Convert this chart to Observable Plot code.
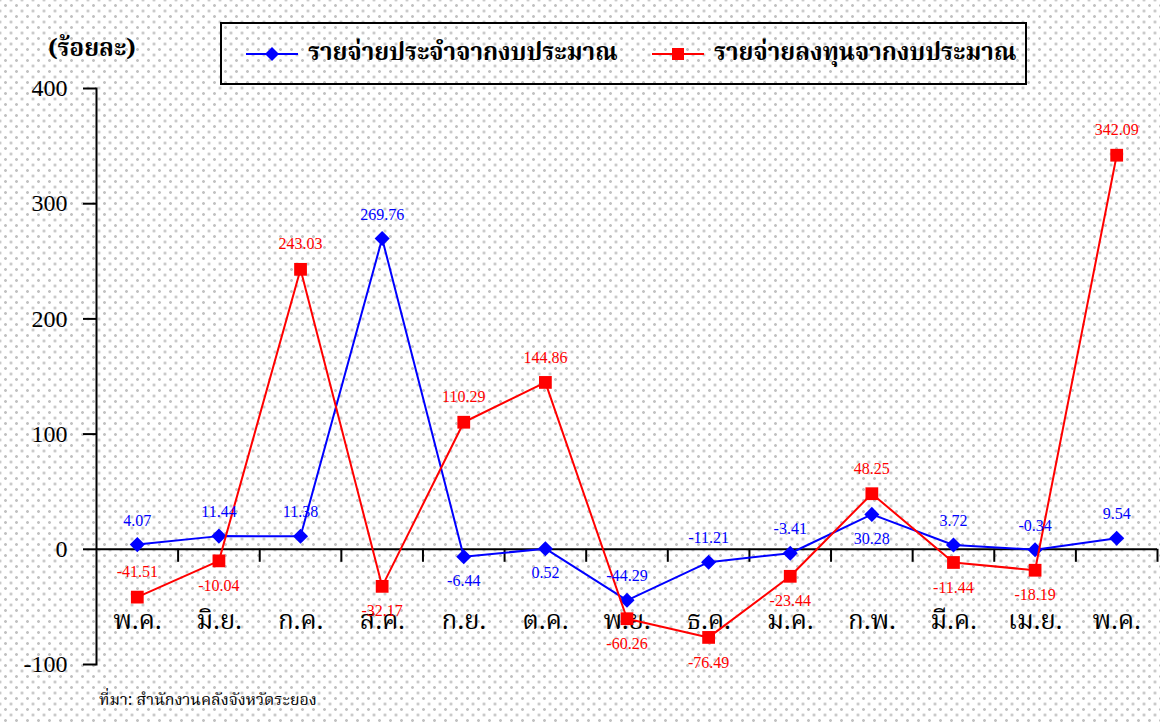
<!DOCTYPE html>
<html>
<head>
<meta charset="utf-8">
<script src="https://cdn.jsdelivr.net/npm/d3@7"></script>
<script src="https://cdn.jsdelivr.net/npm/@observablehq/plot@0.6"></script>
<style>
  html, body { margin: 0; padding: 0; }
  body {
    width: 1160px; height: 722px; overflow: hidden;
    background-color: #ffffff;
    background-image:
      radial-gradient(circle, #c2c2c2 1.1px, transparent 1.7px),
      radial-gradient(circle, #c2c2c2 1.1px, transparent 1.7px);
    background-size: 11px 11px;
    background-position: 0 0, 5.5px 5.5px;
  }
  #wrap { position: relative; width: 1160px; height: 722px; }
  #chart { position: absolute; left: 0; top: 0; }
  .thai { font-family: 'Noto Serif Thai', 'Norasi', 'Garuda', 'Loma', 'Noto Sans Thai', 'TH Sarabun New', sans-serif; }
  #unit { position: absolute; left: 48px; top: 38px; font-size: 24px; font-weight: bold; line-height: 1; color: #000; }
  #legend { position: absolute; left: 220px; top: 22px; width: 807px; height: 63px; box-sizing: border-box; border: 2px solid #000; }
  .item { position: absolute; top: 0; height: 59px; display: flex; align-items: center; }
  .item svg { margin-right: 10px; }
  .item span { font-size: 24px; font-weight: bold; color: #000; white-space: nowrap; }
  #source { position: absolute; left: 99px; top: 688px; font-size: 16px; color: #000; white-space: nowrap; }
</style>
</head>
<body>
<div id="wrap">
  <div id="chart"></div>
  <div id="unit" class="thai">(ร้อยละ)</div>
  <div id="legend"></div>
  <div id="source" class="thai">ที่มา: สำนักงานคลังจังหวัดระยอง</div>
</div>
<script>
// ---- data ----
const months = ["พ.ค.", "มิ.ย.", "ก.ค.", "ส.ค.", "ก.ย.", "ต.ค.", "พ.ย.", "ธ.ค.", "ม.ค.", "ก.พ.", "มี.ค.", "เม.ย.", "พ.ค."];
const recurrent = [4.07, 11.44, 11.38, 269.76, -6.44, 0.52, -44.29, -11.21, -3.41, 30.28, 3.72, -0.34, 9.54];
const capital = [-41.51, -10.04, 243.03, -32.17, 110.29, 144.86, -60.26, -76.49, -23.44, 48.25, -11.44, -18.19, 342.09];
const recurrentLabelSide = ["top", "top", "top", "top", "bottom", "bottom", "top", "top", "top", "bottom", "top", "top", "top"];
const capitalLabelSide = ["top", "bottom", "top", "bottom", "top", "top", "bottom", "bottom", "bottom", "top", "bottom", "bottom", "top"];
const seriesNames = ["รายจ่ายประจำจากงบประมาณ", "รายจ่ายลงทุนจากงบประมาณ"];
const yTicks = [-100, 0, 100, 200, 300, 400];
const yDomain = [-100, 400];

const thaiFont = "'Noto Serif Thai','Norasi','Garuda','Loma','Noto Sans Thai','TH Sarabun New',sans-serif";
const numFont = "'Liberation Serif','Times New Roman',serif";
const BLUE = "#0000ff", RED = "#ff0000";

const rows = months.map((m, i) => ({
  i, month: m,
  rec: recurrent[i], cap: capital[i],
  recSide: recurrentLabelSide[i], capSide: capitalLabelSide[i]
}));
const xc = d => d.i + 0.5;
const fmt = v => v.toFixed(2);

const chart = Plot.plot({
  width: 1160,
  height: 690,
  marginTop: 88,
  marginBottom: 26,
  marginLeft: 96,
  marginRight: 3,
  style: { background: "transparent", fontFamily: numFont, color: "#000" },
  x: { domain: [0, months.length], axis: null },
  y: { domain: yDomain, axis: null },
  marks: [
    Plot.axisY({ ticks: yTicks, tickSize: 13, strokeWidth: 2, tickFormat: () => "" }),
    Plot.text(yTicks, { y: d => d, frameAnchor: "left", dx: -29, textAnchor: "end", text: d => String(d), fontSize: 24, fontFamily: numFont, fill: "#000" }),
    Plot.frame({ anchor: "left", strokeWidth: 2 }),
    Plot.ruleY([0], { strokeWidth: 2 }),
    Plot.ruleX(d3.range(1, months.length + 1), { x: d => d, y1: () => 0, y2: () => 0, insetBottom: -13, strokeWidth: 2 }),
    Plot.text(rows, { x: xc, y: () => 0, text: "month", dy: 71, fontSize: 26, fontFamily: thaiFont, fill: "#000" }),
    Plot.line(rows, { x: xc, y: "rec", stroke: BLUE, strokeWidth: 2 }),
    Plot.dot(rows, { x: xc, y: "rec", symbol: "diamond2", r: 6.8, fill: BLUE, stroke: "none" }),
    Plot.line(rows, { x: xc, y: "cap", stroke: RED, strokeWidth: 2 }),
    Plot.dot(rows, { x: xc, y: "cap", symbol: "square", r: 7.2, fill: RED, stroke: "none" }),
    Plot.text(rows.filter(d => d.recSide === "top"), { x: xc, y: "rec", text: d => fmt(d.rec), dy: -24, fontSize: 16, fontFamily: numFont, fill: BLUE }),
    Plot.text(rows.filter(d => d.recSide === "bottom"), { x: xc, y: "rec", text: d => fmt(d.rec), dy: 24, fontSize: 16, fontFamily: numFont, fill: BLUE }),
    Plot.text(rows.filter(d => d.capSide === "top"), { x: xc, y: "cap", text: d => fmt(d.cap), dy: -25, fontSize: 16, fontFamily: numFont, fill: RED }),
    Plot.text(rows.filter(d => d.capSide === "bottom"), { x: xc, y: "cap", text: d => fmt(d.cap), dy: 25, fontSize: 16, fontFamily: numFont, fill: RED })
  ]
});
document.getElementById("chart").appendChild(chart);

// ---- legend ----
const legend = document.getElementById("legend");
const legendItems = [
  { name: seriesNames[0], color: BLUE, left: 24, marker: "diamond" },
  { name: seriesNames[1], color: RED, left: 430, marker: "square" }
];
for (const it of legendItems) {
  const div = document.createElement("div");
  div.className = "item thai";
  div.style.left = it.left + "px";
  const markerSvg = it.marker === "diamond"
    ? `<polygon points="26,4 33,11 26,18 19,11" fill="${it.color}"/>`
    : `<rect x="20" y="5" width="12" height="12" fill="${it.color}"/>`;
  div.innerHTML = `<svg width="52" height="22"><line x1="0" y1="11" x2="52" y2="11" stroke="${it.color}" stroke-width="2"/>${markerSvg}</svg><span>${it.name}</span>`;
  legend.appendChild(div);
}
</script>
</body>
</html>
